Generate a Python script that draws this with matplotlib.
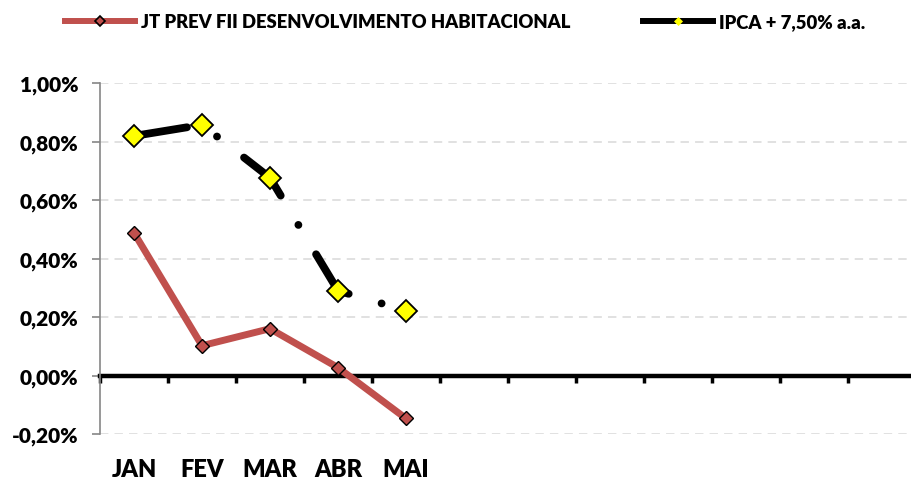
import matplotlib
matplotlib.use("Agg")
import matplotlib.pyplot as plt
from matplotlib.lines import Line2D

plt.rcParams['font.family'] = ['Lato', 'DejaVu Sans']
plt.rcParams['font.weight'] = 'heavy'

months = ["JAN", "FEV", "MAR", "ABR", "MAI", "", "", "", "", "", "", ""]
fund_name = "JT PREV FII DESENVOLVIMENTO HABITACIONAL"
bench_name = "IPCA + 7,50% a.a."
# monthly returns in %
fund = [0.488, 0.102, 0.160, 0.027, -0.147]
bench = [0.819, 0.857, 0.676, 0.290, 0.222]
y_ticks = [-0.2, 0.0, 0.2, 0.4, 0.6, 0.8, 1.0]

red = "#C0504D"

fig = plt.figure(figsize=(9.12, 4.81), dpi=100)
ax = fig.add_axes([100 / 912, 46 / 481, 816 / 912, 351 / 481])

x = list(range(len(months)))
ax.set_xlim(-0.5, len(months) - 0.5)
ax.set_ylim(-0.2, 1.0)

# grid
for v in y_ticks:
    if v != 0:
        ax.axhline(v, color="#D9D9D9", lw=1.1, ls=(0, (5.5, 4)), zorder=0)

ax.plot(x[:len(fund)], fund, color=red, lw=5, marker="D", ms=7,
        mfc=red, mec="black", mew=1.0, zorder=3, solid_capstyle="round")
ax.plot(x[:len(bench)], bench, color="black", lw=5.6, ls=(0, (6.9, 4.4, 0.01, 4.4)),
        dash_capstyle="round", marker="D", ms=11.5, mfc="#FFFF00",
        mec="black", mew=1.3, zorder=4)

# axes look
for s in ["top", "right"]:
    ax.spines[s].set_visible(False)
ax.spines["left"].set_color("#868686")
ax.spines["left"].set_linewidth(1.2)
ax.spines["bottom"].set_position(("data", 0))
ax.spines["bottom"].set_color("black")
ax.spines["bottom"].set_linewidth(3.2)
ax.spines["bottom"].set_zorder(2)

ax.set_yticks(y_ticks)
ax.set_yticklabels([("%.2f%%" % v).replace(".", ",") for v in y_ticks])
ax.tick_params(axis="y", length=6, width=1.2, color="#868686", pad=9.5,
               labelsize=15)

ax.set_xticks([i - 0.5 for i in x])
ax.set_xticklabels([])
ax.tick_params(axis="x", length=5, width=2.5, color="black", direction="out")

sec = ax.secondary_xaxis("bottom")
sec.set_xticks(x)
sec.set_xticklabels(months)
sec.tick_params(length=0, pad=17, labelsize=17)
sec.spines["bottom"].set_visible(False)

handles = [
    Line2D([], [], color=red, lw=4.3, marker="D", ms=5, mfc=red, mec="black",
           mew=1.2),
    Line2D([], [], color="black", lw=4.3, marker="D", ms=4.5, mfc="#FFFF00",
           mec="#FFFF00", mew=0.5),
]
fig.legend(handles, [fund_name, bench_name], ncol=2, loc="center",
           bbox_to_anchor=(0.51, 0.953), frameon=False, fontsize=13.3,
           handlelength=3.8, handletextpad=0.35, columnspacing=3.9)

fig.savefig("out.png", dpi=100)
